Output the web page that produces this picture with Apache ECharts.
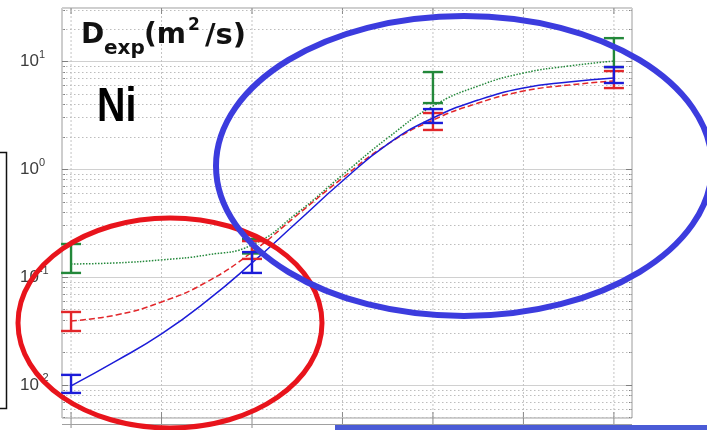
<!DOCTYPE html>
<html>
<head>
<meta charset="utf-8">
<script src="https://cdn.jsdelivr.net/npm/echarts@6/dist/echarts.min.js"></script>
<style>
  html, body { margin: 0; padding: 0; background: #fff; }
  #chart { width: 707px; height: 430px; }
</style>
</head>
<body>
<div id="chart"></div>
<script>
// Fitted diffusion curves, sampled along the x axis
const xSamples = [0, 0.5, 1, 1.5, 2, 2.5, 3, 3.5, 4, 4.5, 5, 5.5, 6];
const fitBlue  = [0.00979, 0.0167, 0.0297, 0.0600, 0.135, 0.323, 0.774, 1.70, 2.97, 4.35, 5.62, 6.39, 6.96];
const fitRed   = [0.0392, 0.0445, 0.0587, 0.0899, 0.170, 0.375, 0.826, 1.70, 2.84, 4.08, 5.27, 5.99, 6.53];
const fitGreen = [0.132, 0.135, 0.144, 0.160, 0.198, 0.392, 0.880, 1.94, 3.83, 5.87, 7.74, 8.99, 10.0];

// Measured points: lower / upper ends of the error bars
const measuredX = [0, 2, 4, 6];
const blueLow   = [0.00843, 0.109, 2.67, 6.26];
const blueHigh  = [0.01239, 0.170, 3.59, 8.80];
const redLow    = [0.0316, 0.147, 2.30, 5.62];
const redHigh   = [0.0474, 0.215, 3.30, 8.08];
const greenLow  = [0.109, 0.165, 4.08, 8.80];
const greenHigh = [0.202, 0.225, 7.91, 16.3];

// Axis settings
const xGridValues = [0, 1, 2, 3, 4, 5, 6];
const yTickExponents = [-2, -1, 0, 1];
const xMin = -0.1, xMax = 6.2;
const yMin = 0.00494, yMax = 31;

const COLORS = { blue: '#1c1cd8', red: '#e2262a', green: '#23883a' };

// Minor log grid values (2..9 within each decade)
const minorGrid = [];
for (let e = -3; e <= 1; e++) {
  for (let m = 2; m <= 9; m++) {
    const v = m * Math.pow(10, e);
    if (v > yMin && v < yMax) minorGrid.push(v);
  }
}
const majorGrid = yTickExponents.map(e => Math.pow(10, e));

function errorBars(name, lows, highs, color) {
  return {
    type: 'custom',
    name: name,
    z: 5,
    clip: false,
    data: measuredX.map((x, i) => [x, lows[i], highs[i]]),
    encode: { x: 0, y: [1, 2] },
    renderItem: function (params, api) {
      const x = api.value(0);
      const lo = api.coord([x, api.value(1)]);
      const hi = api.coord([x, api.value(2)]);
      const w = 10;
      const st = { stroke: color, lineWidth: 2.4 };
      return {
        type: 'group',
        children: [
          { type: 'line', shape: { x1: lo[0], y1: lo[1], x2: hi[0], y2: hi[1] }, style: st },
          { type: 'line', shape: { x1: lo[0] - w, y1: lo[1], x2: lo[0] + w, y2: lo[1] }, style: st },
          { type: 'line', shape: { x1: hi[0] - w, y1: hi[1], x2: hi[0] + w, y2: hi[1] }, style: st }
        ]
      };
    }
  };
}

function fitLine(name, values, color, type) {
  return {
    type: 'line',
    name: name,
    z: 4,
    data: xSamples.map((x, i) => [x, values[i]]),
    smooth: 0.5,
    symbol: 'none',
    lineStyle: { color: color, width: 1.5, type: type }
  };
}

// Vertical grid lines with small inward ticks on top and bottom
const verticalGrid = {
  type: 'custom',
  z: 1,
  silent: true,
  data: xGridValues.map(x => [x, 1]),
  encode: { x: 0, y: 1 },
  renderItem: function (params, api) {
    const cs = params.coordSys;
    const px = api.coord([api.value(0), 1])[0];
    return {
      type: 'group',
      children: [
        { type: 'line', shape: { x1: px, y1: cs.y, x2: px, y2: cs.y + cs.height },
          style: { stroke: '#c4c4c4', lineWidth: 1, lineDash: [2, 2] } },
        { type: 'line', shape: { x1: px, y1: cs.y, x2: px, y2: cs.y + 6 },
          style: { stroke: '#8a8a8a', lineWidth: 1 } },
        { type: 'line', shape: { x1: px, y1: cs.y + cs.height - 6, x2: px, y2: cs.y + cs.height + 10 },
          style: { stroke: '#8a8a8a', lineWidth: 1 } }
      ]
    };
  }
};

// Horizontal log grid (minor dotted lines, ticks on both sides)
const horizontalGrid = {
  type: 'custom',
  z: 1,
  silent: true,
  data: minorGrid.map(v => [0, v, 0]).concat(majorGrid.map(v => [0, v, 1])),
  encode: { x: 0, y: 1 },
  renderItem: function (params, api) {
    const cs = params.coordSys;
    const py = Math.round(api.coord([0, api.value(1)])[1]) + 0.5;
    const major = api.value(2) === 1;
    const t = major ? 6 : 3;
    const children = [
      { type: 'line', shape: { x1: cs.x, y1: py, x2: cs.x + t, y2: py }, style: { stroke: '#808080', lineWidth: 1 } },
      { type: 'line', shape: { x1: cs.x + cs.width - t, y1: py, x2: cs.x + cs.width, y2: py }, style: { stroke: '#808080', lineWidth: 1 } }
    ];
    if (!major) {
      children.push({ type: 'line', shape: { x1: cs.x, y1: py, x2: cs.x + cs.width, y2: py },
        style: { stroke: '#bdbdbd', lineWidth: 1, lineDash: [1.5, 2.5] } });
    }
    return { type: 'group', children: children };
  }
};

const chart = echarts.init(document.getElementById('chart'), null, { renderer: 'canvas' });

chart.setOption({
  animation: false,
  backgroundColor: '#ffffff',
  grid: {
    left: 62, right: 75, top: 8, bottom: 12,
    show: true, borderColor: '#9c9c9c', borderWidth: 1, backgroundColor: 'transparent'
  },
  xAxis: {
    type: 'value', min: xMin, max: xMax,
    axisLine: { show: false }, axisTick: { show: false }, axisLabel: { show: false },
    splitLine: { show: false }
  },
  yAxis: {
    type: 'log', logBase: 10, min: yMin, max: yMax,
    axisLine: { show: false }, axisTick: { show: false },
    splitLine: { show: true, lineStyle: { color: '#d0d0d0', width: 1 } },
    axisLabel: {
      margin: 42,
      align: 'left',
      formatter: function (v) {
        const lg = Math.log10(v);
        const e = Math.round(lg);
        if (Math.abs(lg - e) > 1e-6 || yTickExponents.indexOf(e) < 0) return '';
        return '{b|10}{s|' + e + '}';
      },
      rich: {
        b: { fontSize: 17, color: '#3c3c3c', fontFamily: 'Liberation Sans', lineHeight: 24 },
        s: { fontSize: 11, color: '#3c3c3c', fontFamily: 'Liberation Sans', verticalAlign: 'top', lineHeight: 12 }
      }
    }
  },
  series: [
    verticalGrid,
    horizontalGrid,
    fitLine('green', fitGreen, COLORS.green, 'dotted'),
    fitLine('red', fitRed, COLORS.red, [6, 3]),
    fitLine('blue', fitBlue, COLORS.blue, 'solid'),
    errorBars('green', greenLow, greenHigh, COLORS.green),
    errorBars('red', redLow, redHigh, COLORS.red),
    errorBars('blue', blueLow, blueHigh, COLORS.blue)
  ],
  graphic: [
    // legend frame at the left edge
    { type: 'rect', z: 50, shape: { x: -4, y: 152.5, width: 10.5, height: 256 },
      style: { fill: 'none', stroke: '#111', lineWidth: 1.5 } },
    // top edge of the panel below
    { type: 'line', z: 50, shape: { x1: 62, y1: 424.5, x2: 632, y2: 424.5 },
      style: { stroke: '#a0a0a0', lineWidth: 1 } },
    { type: 'rect', z: 50, shape: { x: 335, y: 425, width: 372, height: 5 },
      style: { fill: '#4a5bd6' } },
    // quantity label
    { type: 'text', z: 60, x: 81, y: 36, style: { text: 'D', font: 'bold 28px "DejaVu Sans"', fill: '#111', verticalAlign: 'middle' } },
    { type: 'text', z: 60, x: 104, y: 49, style: { text: 'exp', font: 'bold 20px "DejaVu Sans"', fill: '#111', verticalAlign: 'middle' } },
    { type: 'text', z: 60, x: 144, y: 36, style: { text: '(m', font: 'bold 28px "DejaVu Sans"', fill: '#111', verticalAlign: 'middle' } },
    { type: 'text', z: 60, x: 188, y: 26, style: { text: '2', font: 'bold 17px "DejaVu Sans"', fill: '#111', verticalAlign: 'middle' } },
    { type: 'text', z: 60, x: 205, y: 36, style: { text: '/s)', font: 'bold 29px "DejaVu Sans"', fill: '#111', verticalAlign: 'middle' } },
    // element label
    { type: 'text', z: 60, x: 97, y: 108, scaleX: 0.82,
      style: { text: 'Ni', font: 'bold 48px "Liberation Sans"', fill: '#000', verticalAlign: 'middle' } },
    // highlight ellipses
    { type: 'ellipse', z: 100, shape: { cx: 170, cy: 323, rx: 152, ry: 105 },
      style: { fill: 'none', stroke: '#e8141c', lineWidth: 5 } },
    { type: 'ellipse', z: 100, shape: { cx: 464, cy: 166, rx: 248, ry: 150 },
      style: { fill: 'none', stroke: '#3c3cde', lineWidth: 6 } }
  ]
});
</script>
</body>
</html>
